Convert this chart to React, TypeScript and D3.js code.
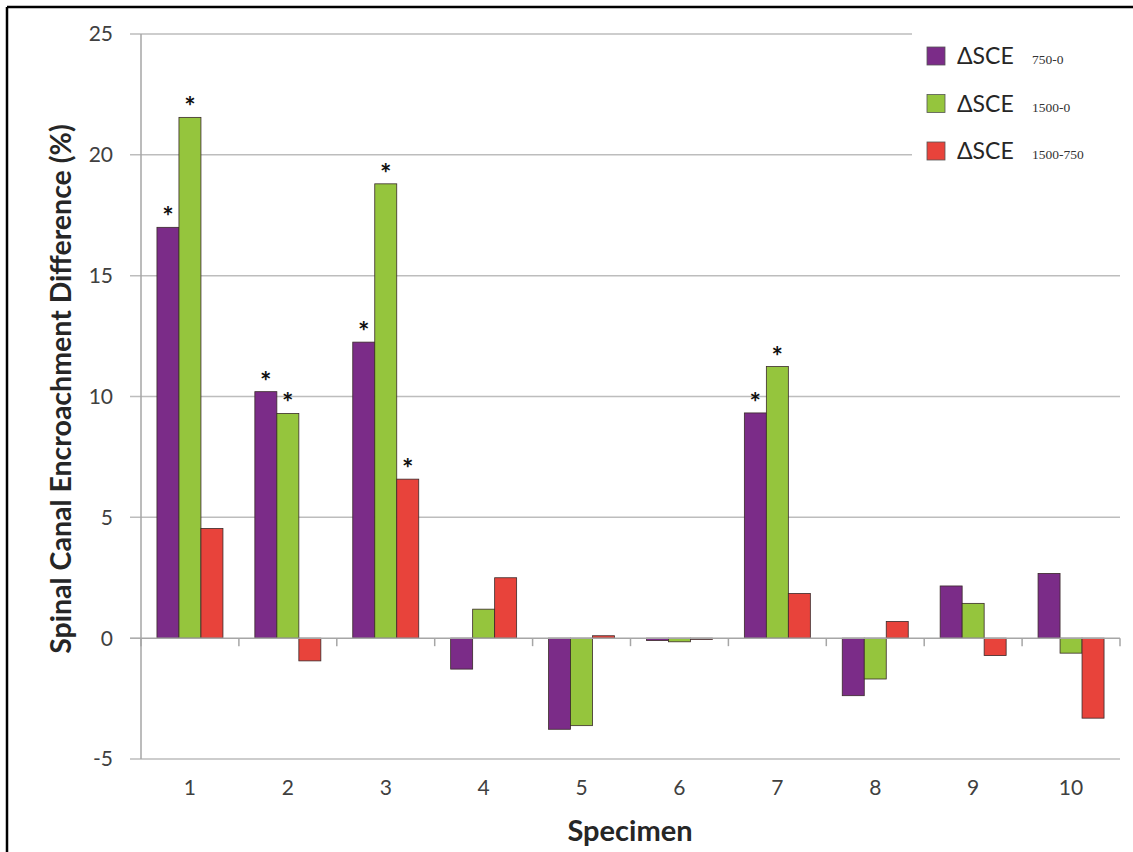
import * as d3 from 'd3'
import React from 'react'

const WIDTH = 1133
const HEIGHT = 852

const specimens = ['1', '2', '3', '4', '5', '6', '7', '8', '9', '10']
const seriesKeys = ['sce750', 'sce1500', 'sce1500_750']
const seriesSubs = ['750-0', '1500-0', '1500-750']
const seriesColors = ['#7B2C88', '#95C53D', '#E8433B']

const sce750 = [17.0, 10.2, 12.25, -1.28, -3.77, -0.1, 9.32, -2.38, 2.16, 2.68]
const sce1500 = [21.55, 9.3, 18.8, 1.2, -3.62, -0.15, 11.24, -1.69, 1.44, -0.62]
const sce1500_750 = [4.54, -0.94, 6.58, 2.5, 0.1, -0.05, 1.85, 0.69, -0.72, -3.31]

// significance markers (*) per series, by specimen index
const star750 = [0, 1, 2, 6]
const star1500 = [0, 1, 2, 6]
const star1500_750 = [2]

const yTicks = [-5, 0, 5, 10, 15, 20, 25]

const FONT = 'Lato, "Open Sans", sans-serif'

const margin = { left: 141, right: 1120, top: 34, bottom: 759 }

export default function App() {
  const values = [sce750, sce1500, sce1500_750]
  const stars = [star750, star1500, star1500_750]

  const x0 = d3
    .scaleBand()
    .domain(specimens)
    .range([margin.left, margin.right])
    .paddingInner(0.326)
    .paddingOuter(0.163)

  const x1 = d3.scaleBand().domain(seriesKeys).range([0, x0.bandwidth()])

  const y = d3.scaleLinear().domain([-5, 25]).range([margin.bottom, margin.top])

  const step = x0.step()
  const boundaries = d3.range(specimens.length + 1).map(i => margin.left + i * step)

  return (
    <svg
      width={WIDTH}
      height={HEIGHT}
      style={{ position: 'absolute', left: 0, top: 0, background: '#fff' }}
      fontFamily={FONT}
    >
      <rect x={0} y={0} width={WIDTH} height={HEIGHT} fill="#fff" />

      {/* grid lines */}
      {yTicks
        .filter(t => t !== 0)
        .map(t => (
          <line key={t} x1={130} x2={margin.right} y1={y(t)} y2={y(t)} stroke="#BDBDBD" strokeWidth={1.5} />
        ))}

      {/* y axis */}
      <line x1={margin.left} x2={margin.left} y1={margin.top} y2={margin.bottom} stroke="#A6A6A6" strokeWidth={1.5} />
      <line x1={130} x2={margin.left} y1={y(0)} y2={y(0)} stroke="#A6A6A6" strokeWidth={1.5} />
      {yTicks.map(t => (
        <text key={t} x={113} y={y(t)} dy="0.35em" textAnchor="end" fontSize={21} fill="#404040">
          {t}
        </text>
      ))}

      {/* bars */}
      {specimens.map((s, i) => (
        <g key={s} transform={`translate(${x0(s)},0)`}>
          {seriesKeys.map((k, j) => {
            const v = values[j][i]
            const top = y(Math.max(0, v))
            const h = Math.abs(y(v) - y(0))
            return (
              <rect
                key={k}
                x={x1(k)}
                y={top}
                width={x1.bandwidth()}
                height={Math.max(h, 0.8)}
                fill={seriesColors[j]}
                stroke="#3a2a2a"
                strokeWidth={0.8}
              />
            )
          })}
          {seriesKeys.map((k, j) =>
            stars[j].includes(i) ? (
              <text
                key={k}
                x={(x1(k) as number) + x1.bandwidth() / 2}
                y={y(values[j][i]) - 1}
                textAnchor="middle"
                fontSize={27}
                fontWeight="bold"
                fill="#111"
              >
                *
              </text>
            ) : null
          )}
        </g>
      ))}

      {/* zero axis with category ticks */}
      <line x1={margin.left} x2={margin.right} y1={y(0)} y2={y(0)} stroke="#A6A6A6" strokeWidth={1.5} />
      {boundaries.map((b, i) => (
        <line key={i} x1={b} x2={b} y1={y(0)} y2={y(0) + 8} stroke="#A6A6A6" strokeWidth={1.5} />
      ))}

      {/* category labels */}
      {specimens.map(s => (
        <text
          key={s}
          x={(x0(s) as number) + x0.bandwidth() / 2}
          y={788}
          dy="0.35em"
          textAnchor="middle"
          fontSize={21}
          fill="#404040"
        >
          {s}
        </text>
      ))}

      {/* axis titles */}
      <text x={630} y={831} dy="0.35em" textAnchor="middle" fontSize={29} fontWeight="bold" fill="#262626">
        Specimen
      </text>
      <text
        transform={`translate(61,389) rotate(-90)`}
        dy="0.35em"
        textAnchor="middle"
        fontSize={28.5}
        fontWeight="bold"
        fill="#262626"
      >
        Spinal Canal Encroachment Difference (%)
      </text>

      {/* legend */}
      <rect x={912} y={24} width={212} height={162} fill="#fff" />
      {seriesKeys.map((k, j) => {
        const cy = 56 + j * 47.5
        return (
          <g key={k}>
            <rect x={927} y={cy - 9} width={18} height={18} fill={seriesColors[j]} stroke="#555" strokeWidth={0.8} />
            <text x={957} y={cy} dy="0.35em" fontSize={23} fill="#262626">
              ΔSCE
            </text>
            <text x={1032} y={cy + 8} fontSize={13.5} fill="#333" fontFamily='"Liberation Serif", serif'>
              {seriesSubs[j]}
            </text>
          </g>
        )
      })}

      {/* frame */}
      <line x1={7} x2={WIDTH} y1={7} y2={7} stroke="#000" strokeWidth={2.5} />
      <line x1={7} x2={7} y1={7} y2={HEIGHT} stroke="#000" strokeWidth={2.5} />
    </svg>
  )
}
